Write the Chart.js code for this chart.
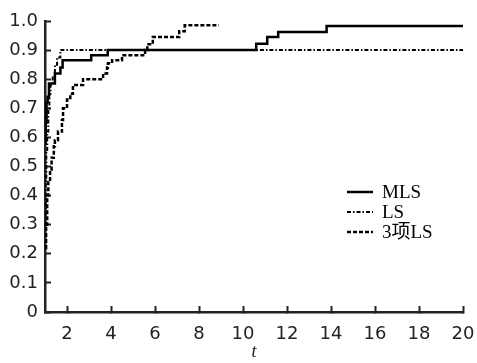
<!DOCTYPE html>
<html>
<head>
<meta charset="utf-8">
<script src="https://cdn.jsdelivr.net/npm/chart.js@4.4.1/dist/chart.umd.min.js"></script>
<style>
  html, body { margin: 0; padding: 0; background: #fff; }
  #wrap { width: 477px; height: 363px; }
</style>
</head>
<body>
<div id="wrap"><canvas id="canvas"></canvas></div>
<script>
var seriesNames = ['MLS', 'LS', '3项LS'];

var mlsT = [1.0, 1.03, 1.07, 1.12, 1.18, 1.45, 1.7, 1.8, 3.1, 3.85, 10.6, 11.1, 11.6, 13.8, 20];
var mlsV = [0.58, 0.65, 0.72, 0.74, 0.785, 0.82, 0.84, 0.865, 0.882, 0.9, 0.922, 0.945, 0.962, 0.983, 0.983];

var lsT = [1.0, 1.03, 1.06, 1.1, 1.15, 1.2, 1.25, 1.35, 1.45, 1.55, 1.7, 20];
var lsV = [0.3, 0.45, 0.55, 0.62, 0.7, 0.75, 0.78, 0.81, 0.85, 0.875, 0.9, 0.9];

var ls3T = [1.0, 1.05, 1.1, 1.15, 1.23, 1.3, 1.4, 1.45, 1.59, 1.77, 1.82, 2.0, 2.15, 2.27, 2.73, 3.64, 3.82, 3.86, 4.05, 4.5, 5.55, 5.65, 5.9, 7.1, 7.35, 8.9];
var ls3V = [0.22, 0.3, 0.4, 0.45, 0.49, 0.53, 0.57, 0.59, 0.62, 0.66, 0.7, 0.73, 0.75, 0.78, 0.8, 0.82, 0.84, 0.855, 0.865, 0.882, 0.9, 0.92, 0.945, 0.965, 0.985, 0.985];

var xTicks = [2, 4, 6, 8, 10, 12, 14, 16, 18, 20];
var yTicks = [0, 0.1, 0.2, 0.3, 0.4, 0.5, 0.6, 0.7, 0.8, 0.9, 1.0];

function pts(t, v) {
    return t.map(function(x, i) { return {x: x, y: v[i]}; });
}

var tickFont = {family: 'DejaVu Sans', size: 18};

// legend drawn inside the plot area
var innerLegend = {
    id: 'innerLegend',
    afterDatasetsDraw: function(chart) {
        var ctx = chart.ctx;
        ctx.save();
        chart.data.datasets.forEach(function(ds, i) {
            var y = 192 + i * 20;
            ctx.strokeStyle = '#000';
            ctx.lineWidth = ds.borderWidth;
            ctx.setLineDash(ds.borderDash || []);
            ctx.beginPath();
            ctx.moveTo(347, y);
            ctx.lineTo(373, y);
            ctx.stroke();
            ctx.setLineDash([]);
            ctx.fillStyle = '#000';
            ctx.font = '19px "Liberation Serif", "Noto Sans CJK SC", serif';
            ctx.textBaseline = 'middle';
            ctx.fillText(ds.label, 382, y + 1);
        });
        ctx.restore();
    }
};

window.onload = function() {
    var ctx = document.getElementById('canvas').getContext('2d');
    window.myChart = new Chart(ctx, {
        type: 'line',
        plugins: [innerLegend],
        data: {
            datasets: [{
                label: seriesNames[0],
                data: pts(mlsT, mlsV),
                borderColor: '#000',
                borderWidth: 2.5,
                stepped: 'before',
                pointRadius: 0
            }, {
                label: seriesNames[1],
                data: pts(lsT, lsV),
                borderColor: '#000',
                borderWidth: 2,
                borderDash: [4, 2, 1.5, 2],
                stepped: 'before',
                pointRadius: 0
            }, {
                label: seriesNames[2],
                data: pts(ls3T, ls3V),
                borderColor: '#000',
                borderWidth: 2.5,
                borderDash: [4, 2],
                stepped: 'before',
                pointRadius: 0
            }]
        },
        options: {
            responsive: true,
            maintainAspectRatio: false,
            animation: false,
            layout: {padding: {left: 0, right: 14, top: 21, bottom: 0}},
            plugins: {
                legend: {display: false},
                tooltip: {enabled: false}
            },
            scales: {
                x: {
                    type: 'linear',
                    min: 1,
                    max: 20,
                    afterBuildTicks: function(scale) {
                        scale.ticks = xTicks.map(function(v) { return {value: v}; });
                    },
                    afterFit: function(scale) {
                        scale.height = 51;
                        scale.paddingLeft = 0;
                        scale.paddingRight = 0;
                    },
                    grid: {
                        drawOnChartArea: false,
                        tickLength: -6,
                        tickWidth: 2,
                        color: '#222'
                    },
                    border: {color: '#222', width: 2.5},
                    ticks: {
                        font: tickFont,
                        color: '#222',
                        padding: 18,
                        maxRotation: 0
                    },
                    title: {
                        display: true,
                        text: 't',
                        color: '#222',
                        font: {family: 'Liberation Serif', size: 18, style: 'italic'},
                        padding: {top: 8, bottom: 0}
                    }
                },
                y: {
                    min: 0,
                    max: 1,
                    afterBuildTicks: function(scale) {
                        scale.ticks = yTicks.map(function(v) { return {value: v}; });
                    },
                    afterFit: function(scale) {
                        scale.width = 45;
                        scale.paddingTop = 0;
                        scale.paddingBottom = 0;
                    },
                    grid: {
                        drawOnChartArea: false,
                        tickLength: -6,
                        tickWidth: 2,
                        color: '#222'
                    },
                    border: {color: '#222', width: 2.5},
                    ticks: {
                        font: tickFont,
                        color: '#222',
                        padding: 13,
                        callback: function(v) { return v === 0 ? '0' : v.toFixed(1); }
                    }
                }
            }
        }
    });
};
</script>
</body>
</html>
